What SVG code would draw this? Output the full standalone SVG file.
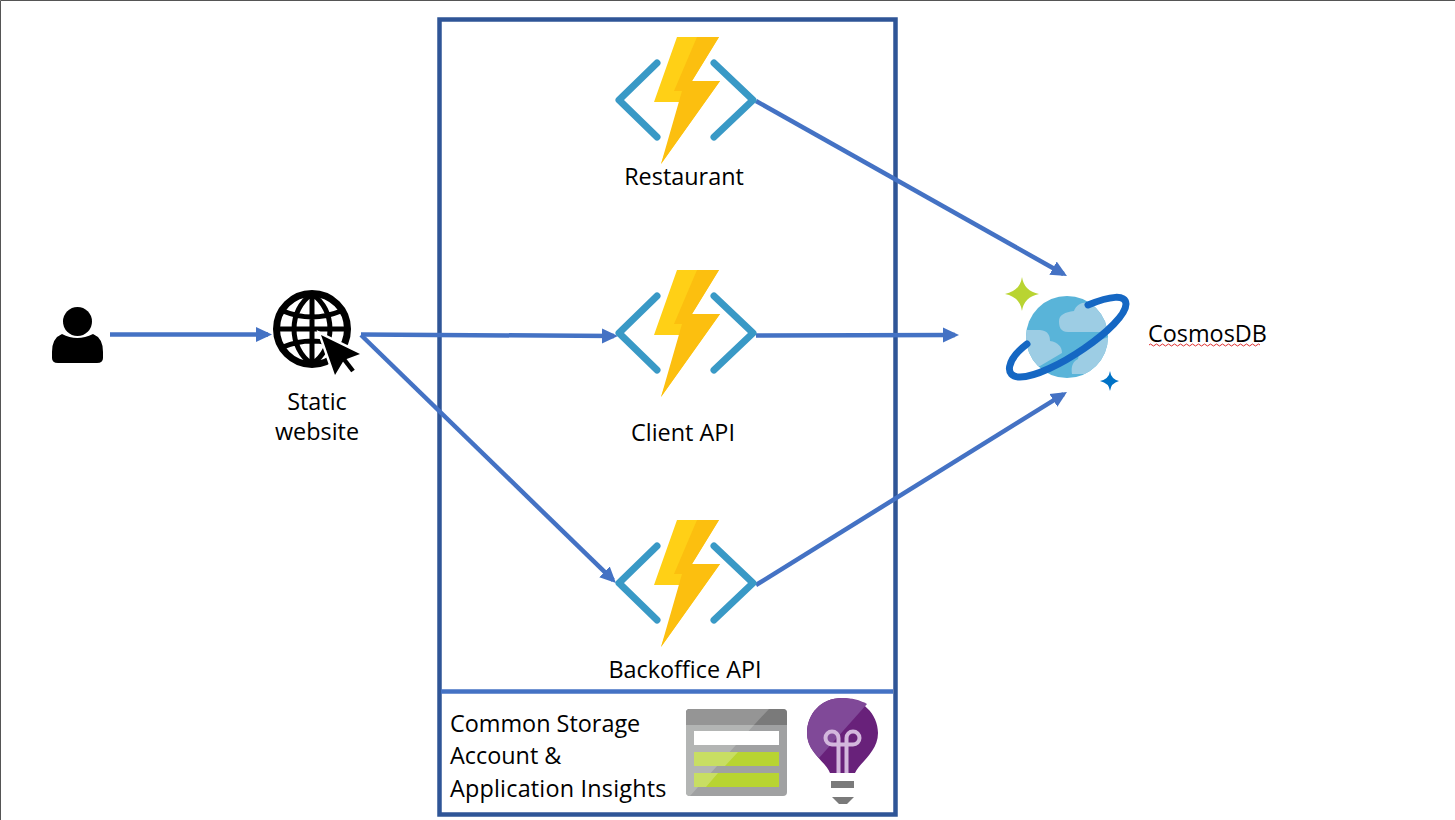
<svg xmlns="http://www.w3.org/2000/svg" width="1455" height="820" viewBox="0 0 1455 820">
<style>
text{font-family:"Open Sans","Noto Sans","Liberation Sans",sans-serif;font-size:23.4px;fill:#000}
.mid{text-anchor:middle}
.c{fill:none;stroke:#4472c4;stroke-width:4.500}
.cloud{fill:#9dcde4}
</style>
<defs>
<marker id="arr" markerUnits="userSpaceOnUse" markerWidth="17" markerHeight="16" refX="12" refY="8" orient="auto"><path d="M0 0.500L16 8L0 15.500z" fill="#4472c4"/></marker>
<clipPath id="globe"><circle cx="1067" cy="337" r="41"/></clipPath>
<g id="fn">
<path d="M657 63L619 100L657 137M714 63L753 100L714 137" fill="none" stroke="#3999c6" stroke-width="7" stroke-linecap="round" stroke-linejoin="round"/>
<path d="M677 37H719L692 81H720L661 164L682 102H654z" fill="#ffd016"/>
<path d="M697 37H719L692 81H720L661 164L682 91H674z" fill="#fcbf0f"/>
</g>
</defs>
<rect x="0" y="0" width="1455" height="820" fill="#fff"/>
<path d="M0.500 820V0.500H1455" fill="none" stroke="#555"/>
<g id="boundary">
<rect x="439.500" y="19.500" width="456" height="795" fill="none" stroke="#2f5597" stroke-width="4.500"/>
<path d="M441 691.500H893" fill="none" stroke="#4472c4" stroke-width="4.500"/>
</g>
<g id="connectors">
<path class="c" d="M110 334.500H268" marker-end="url(#arr)"/>
<path class="c" d="M361 334.500L614 336" marker-end="url(#arr)"/>
<path class="c" d="M361 335L613.100 580.200" marker-end="url(#arr)"/>
<path class="c" d="M756 335.500L955 335" marker-end="url(#arr)"/>
<path class="c" d="M756 101L1063.500 274" marker-end="url(#arr)"/>
<path class="c" d="M756 585L1063.600 394.100" marker-end="url(#arr)"/>
</g>
<g id="user">
<circle cx="77.500" cy="321.500" r="14.500"/>
<path d="M62 334Q77 342 93 334Q103 338 103 352V358Q103 363 97 363H58Q52 363 52 358V352Q52 338 62 334z"/>
</g>
<g id="static-website">
<circle cx="312" cy="329" r="35.500" fill="none" stroke="#000" stroke-width="7"/>
<path d="M312 294V364M277 329H347M283 311Q312 323 341 311M283 347Q312 335 341 347M312 294C288 310 288 348 312 364M312 294C336 310 336 348 312 364" fill="none" stroke="#000" stroke-width="5"/>
<path d="M321 335L360 354L344 360L335 375z" fill="#000" stroke="#fff" stroke-width="5" paint-order="stroke"/>
<path d="M343 358L353 371" stroke="#000" stroke-width="4.500" fill="none"/>
<text class="mid" x="317" y="410">Static</text>
<text class="mid" x="317" y="440">website</text>
</g>
<g id="restaurant">
<use href="#fn"/>
<text class="mid" x="684" y="185">Restaurant</text>
</g>
<g id="client-api">
<use href="#fn" y="233"/>
<text class="mid" x="683" y="441">Client API</text>
</g>
<g id="backoffice-api">
<use href="#fn" y="483"/>
<text class="mid" x="685" y="678">Backoffice API</text>
</g>
<g id="common-storage">
<text x="450" y="732">Common Storage</text>
<text x="450" y="764">Account &amp;</text>
<text x="450" y="797" style="letter-spacing:.2px">Application Insights</text>
<rect x="686" y="709" width="101" height="87" rx="4" fill="#a0a1a2"/>
<path d="M686 725V713Q686 709 690 709H783Q787 709 787 713V725z" fill="#7a7a7a"/>
<path d="M690 709H769L754 725H686V713Q686 709 690 709z" fill="#959595"/>
<path d="M686 725H754L690 796Q686 796 686 792z" fill="#b3b5b4"/>
<rect x="694" y="731" width="85" height="14" fill="#fff"/>
<rect x="694" y="752" width="85" height="14" fill="#b8d432"/>
<rect x="694" y="773" width="85" height="14" fill="#b8d432"/>
<path d="M694 752H738L725 766H694zM694 773H718L706 787H694z" fill="#c8de63"/>
<path d="M842 698C821 698 807 714 807 733C807 752 826 762 830 773H855C860 762 878 752 878 733C878 714 862 698 842 698z" fill="#68217a"/>
<path d="M842 698C821 698 807 714 807 733C807 745 813 752 819 758L867 704C860 700 852 698 842 698z" fill="#804998"/>
<path d="M838.500 773V738A6.500 6.500 0 1 0 832 744.500H853A6.500 6.500 0 1 0 846.500 738V773" fill="none" stroke="#d3b7dd" stroke-width="4"/>
<rect x="831" y="781" width="23" height="7" fill="#7a7a7a"/>
<path d="M832 797H854L847 804H839z" fill="#7a7a7a"/>
</g>
<g id="cosmosdb">
<circle cx="1067" cy="337" r="41" fill="#59b4d9"/>
<g clip-path="url(#globe)">
<path class="cloud" d="M1069 332H1068C1060 332 1059 326 1059 321C1059 315 1065 312 1074 311C1076 304 1084 301 1090 303C1100 306 1110 318 1110 332z"/>
<path class="cloud" d="M1020 330H1040C1048 331 1050 335 1050 341C1058 342 1062 347 1062 353L1040 366L1020 366z"/>
<path class="cloud" d="M1072 374C1071 368 1072 362 1078 359C1079 351 1086 343 1094 342L1112 336V374z"/>
</g>
<path d="M1027 344C1006 360 1004 377 1020 377C1050 377 1126 325 1126 304C1126 294 1110 296 1088 305" fill="none" stroke="#1567c3" stroke-width="7" stroke-linecap="round"/>
<path d="M1022 277Q1024 291 1039 294Q1024 297 1022 311Q1020 297 1005 294Q1020 291 1022 277z" fill="#b9d432"/>
<path d="M1110 371Q1111 379 1119 381Q1111 383 1110 391Q1109 383 1100 381Q1109 379 1110 371z" fill="#0072c6"/>
<text x="1148" y="342">CosmosDB</text>
<path d="M1149 345q1.500 -2 3 0t3 0t3 0t3 0t3 0t3 0t3 0t3 0t3 0t3 0t3 0t3 0t3 0t3 0t3 0t3 0t3 0t3 0t3 0t3 0t3 0t3 0t3 0t3 0t3 0t3 0t3 0t3 0t3 0t3 0t3 0t3 0t3 0t3 0t3 0t3 0t3 0" fill="none" stroke="#e03030" stroke-width="1"/>
</g>
</svg>
